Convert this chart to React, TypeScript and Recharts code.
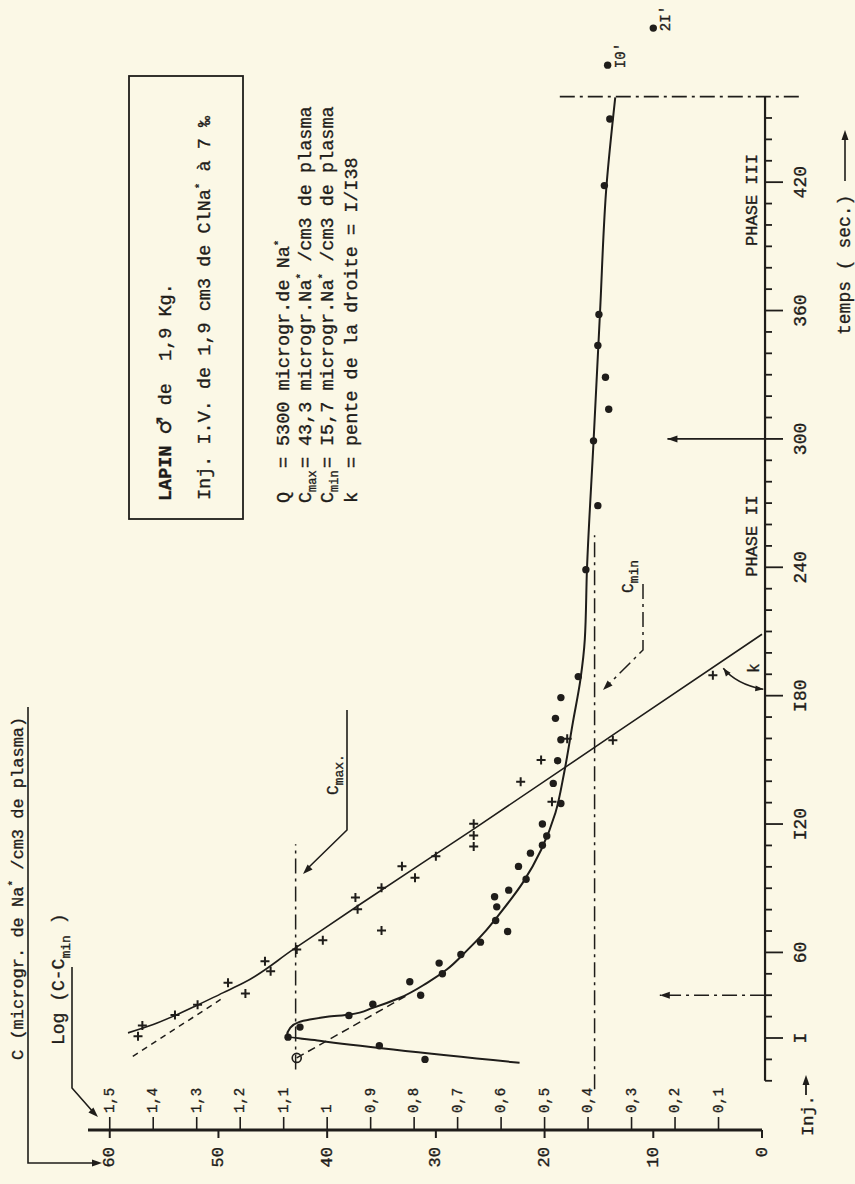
import React from 'react';
import { ComposedChart, XAxis, YAxis, Line, Scatter, ReferenceLine } from 'recharts';

// The plate is drawn "landscape" (time left to right) and the whole sheet is
// then turned a quarter turn counter-clockwise, like the scanned original.
const SHEET_W = 1184;
const SHEET_H = 855;

const INK = '#1f1d1a';
const PAPER = '#fbf8e6';
const MONO = "'Liberation Mono', 'DejaVu Sans Mono', monospace";
const DASH_DOT = '15 5 3 5';
const TEXT_INK = { fill: INK, stroke: INK, strokeWidth: 0.35 };

// --- Data ---

// plasma concentration C (microgr. Na*/cm3), t in seconds
const concentration = [
  { t: 10.0, c: 31.0 }, { t: 16.4, c: 35.2 }, { t: 20.4, c: 43.6 }, { t: 25.1, c: 42.5 },
  { t: 30.5, c: 38.0 }, { t: 35.8, c: 35.8 }, { t: 40.0, c: 31.4 }, { t: 46.3, c: 32.4 },
  { t: 50.0, c: 29.4 }, { t: 55.0, c: 29.7 }, { t: 59.0, c: 27.7 }, { t: 64.8, c: 25.9 },
  { t: 69.8, c: 23.4 }, { t: 74.9, c: 24.5 }, { t: 81.3, c: 24.4 }, { t: 86.0, c: 24.6 },
  { t: 89.1, c: 23.3 }, { t: 94.2, c: 21.7 }, { t: 100.2, c: 22.4 }, { t: 106.4, c: 21.3 },
  { t: 110.1, c: 20.2 }, { t: 114.4, c: 19.8 }, { t: 120.0, c: 20.2 }, { t: 129.6, c: 18.5 },
  { t: 139.0, c: 19.2 }, { t: 149.6, c: 18.8 }, { t: 159.4, c: 18.5 }, { t: 169.4, c: 19.0 },
  { t: 179.1, c: 18.5 }, { t: 188.9, c: 16.9 }, { t: 238.9, c: 16.2 }, { t: 268.8, c: 15.1 },
  { t: 299.1, c: 15.5 }, { t: 313.9, c: 14.1 }, { t: 328.8, c: 14.4 }, { t: 343.7, c: 15.1 },
  { t: 358.2, c: 15.0 }, { t: 418.4, c: 14.5 }, { t: 449.5, c: 14.0 },
];

// the two late samples (10 and 21 min), put just past the end of the scale
const lateSamples = [
  { t: 474.7, c: 14.2, label: "I0'" },
  { t: 492.0, c: 10.0, label: "2I'" },
];

// open circle: value extrapolated back towards the injection
const backExtrapolated = [{ t: 10.7, c: 42.8 }];

// hand-drawn curve through the concentration points
const concentrationCurve = [
  { t: 8.4, c: 22.3 }, { t: 18.7, c: 40.7 }, { t: 20.9, c: 43.7 }, { t: 24.7, c: 43.4 },
  { t: 27.4, c: 42.6 }, { t: 28.6, c: 41.6 }, { t: 29.9, c: 40.0 }, { t: 31.0, c: 37.9 },
  { t: 34.1, c: 35.8 }, { t: 38.8, c: 33.3 }, { t: 45.8, c: 30.8 }, { t: 52.0, c: 29.0 },
  { t: 60.6, c: 27.2 }, { t: 69.0, c: 25.6 }, { t: 77.0, c: 24.3 }, { t: 92.6, c: 22.0 },
  { t: 108.1, c: 20.3 }, { t: 125.3, c: 19.0 }, { t: 144.0, c: 18.2 }, { t: 167.4, c: 17.4 },
  { t: 187.6, c: 16.7 }, { t: 206.3, c: 16.3 }, { t: 239.2, c: 16.1 }, { t: 298.4, c: 15.5 },
  { t: 359.2, c: 14.9 }, { t: 418.6, c: 14.3 }, { t: 459.6, c: 13.5 },
];
const concentrationBack = [{ t: 10.7, c: 42.8 }, { t: 39.5, c: 32.8 }];

// Log (C - Cmin)
const logPoints = [
  { t: 20.8, log: 1.435 }, { t: 25.8, log: 1.425 }, { t: 30.7, log: 1.35 }, { t: 35.5, log: 1.298 },
  { t: 40.8, log: 1.188 }, { t: 45.8, log: 1.228 }, { t: 51.2, log: 1.13 }, { t: 55.9, log: 1.143 },
  { t: 61.4, log: 1.07 }, { t: 65.7, log: 1.01 }, { t: 70.3, log: 0.875 }, { t: 80.2, log: 0.93 },
  { t: 85.7, log: 0.935 }, { t: 90.2, log: 0.875 }, { t: 94.9, log: 0.798 }, { t: 100.3, log: 0.828 },
  { t: 104.9, log: 0.75 }, { t: 109.5, log: 0.663 }, { t: 114.7, log: 0.663 }, { t: 120.1, log: 0.663 },
  { t: 130.4, log: 0.483 }, { t: 139.8, log: 0.555 }, { t: 149.9, log: 0.508 }, { t: 159.2, log: 0.343 },
  { t: 159.9, log: 0.448 }, { t: 189.5, log: 0.113 },
];
const logLine = [
  { t: 22.4, log: 1.458 }, { t: 26.3, log: 1.4 }, { t: 30.5, log: 1.35 }, { t: 35.2, log: 1.3 },
  { t: 41.1, log: 1.24 }, { t: 45.8, log: 1.192 }, { t: 61.4, log: 1.078 }, { t: 82.4, log: 0.925 },
  { t: 117.4, log: 0.665 }, { t: 163.4, log: 0.33 }, { t: 208.7, log: 0 },
];
const logLineBack = [{ t: 11.4, log: 1.447 }, { t: 38.0, log: 1.245 }];

const C_MAX_LEVEL = 42.9;
const C_MIN_LEVEL = 15.4;
const LOG_SCALE = 40; // log 1,5 is printed against C = 60
const END_OF_SCALE = 460;

const cTicks = [0, 10, 20, 30, 40, 50, 60];
const logTicks = [1.5, 1.4, 1.3, 1.2, 1.1, 1.0, 0.9, 0.8, 0.7, 0.6, 0.5, 0.4, 0.3, 0.2, 0.1];
const logTickLabels = ['1,5', '1,4', '1,3', '1,2', '1,1', '1', '0,9', '0,8', '0,7', '0,6', '0,5', '0,4', '0,3', '0,2', '0,1'];
const timeTicks = [
  0, 10, 20, 30, 40, 50, 60, 70, 80, 90, 100, 110, 120, 130, 140, 150, 160, 170, 180, 190, 200,
  210, 220, 230, 240, 250, 260, 270, 280, 290, 300, 310, 320, 330, 340, 350, 360, 370, 380, 390,
  400, 410, 420, 430, 440, 450,
];
const timeTickLabels: Record<number, string> = {
  20: 'I', 60: '60', 120: 'I20', 180: 'I80', 240: '240', 300: '300', 360: '360', 420: '420',
};

const toC = (rows: { t: number; log: number }[]) => rows.map((r) => ({ t: r.t, c: r.log * LOG_SCALE }));
const yTicks = Array.from(
  new Set([...cTicks, ...logTicks.map((l) => Math.round(l * LOG_SCALE * 1000) / 1000)])
).sort((a, b) => a - b);

// --- drawing helpers ---

const head = (x1: number, y1: number, x2: number, y2: number, len = 10, half = 3.5) => {
  const d = Math.hypot(x2 - x1, y2 - y1) || 1;
  const ux = (x2 - x1) / d;
  const uy = (y2 - y1) / d;
  const bx = x2 - ux * len;
  const by = y2 - uy * len;
  return `${x2},${y2} ${bx - uy * half},${by + ux * half} ${bx + uy * half},${by - ux * half}`;
};

const arrowLine = (dash?: string) => (p: any) => (
  <g>
    <line x1={p.x1} y1={p.y1} x2={p.x2} y2={p.y2} stroke={INK} strokeWidth={1.6} strokeDasharray={dash} />
    <polygon points={head(p.x1, p.y1, p.x2, p.y2)} fill={INK} />
  </g>
);

const Dot = (p: any) => <circle cx={p.cx} cy={p.cy} r={3.7} fill={INK} />;
const OpenDot = (p: any) => <circle cx={p.cx} cy={p.cy} r={4.5} fill="none" stroke={INK} strokeWidth={1.6} />;
const Plus = (p: any) => (
  <path d={`M${p.cx - 4.5},${p.cy}H${p.cx + 4.5}M${p.cx},${p.cy - 4.5}V${p.cy + 4.5}`} stroke={INK} strokeWidth={2} />
);
const LateDot = (p: any) => (
  <g>
    <circle cx={p.cx} cy={p.cy} r={3.7} fill={INK} />
    <text x={p.cx - 3} y={p.cy + 17} fontSize={14} fontFamily={MONO} {...TEXT_INK}>
      {p.payload.label}
    </text>
  </g>
);

const ValueTick = (p: any) => {
  const { x, y, payload } = p;
  const v = payload.value;
  const isC = cTicks.includes(v);
  const li = logTicks.findIndex((l) => Math.abs(l * LOG_SCALE - v) < 1e-6);
  return (
    <g fontFamily={MONO}>
      {isC && (
        <>
          <line x1={x} y1={y} x2={x - 8} y2={y} stroke={INK} strokeWidth={2} />
          <text x={x - 17} y={y} textAnchor="end" dominantBaseline="central" fontSize={17} {...TEXT_INK}>
            {v}
          </text>
        </>
      )}
      {li >= 0 && (
        <>
          <line x1={x} y1={y} x2={x + 13} y2={y} stroke={INK} strokeWidth={1.6} />
          <text x={x + 17} y={y} dominantBaseline="central" fontSize={14} {...TEXT_INK}>
            {logTickLabels[li]}
          </text>
        </>
      )}
    </g>
  );
};

const TimeTick = (p: any) => {
  const { x, y, payload } = p;
  const label = timeTickLabels[payload.value];
  const top = y + 3;
  return (
    <g fontFamily={MONO}>
      <line x1={x} y1={top} x2={x} y2={top + (label ? 18 : 7)} stroke={INK} strokeWidth={1.8} />
      {label && (
        <text x={x} y={y + 44} textAnchor="middle" fontSize={18} {...TEXT_INK}>
          {label}
        </text>
      )}
    </g>
  );
};

// free annotations of the plate (titles, legend box, labels), in sheet pixels
const Annotations = () => {
  const sup = (s: string) => (
    <tspan dy={-7} fontSize={11}>
      {s}
    </tspan>
  );
  const sub = (s: string) => (
    <tspan dy={5} fontSize={12}>
      {s}
    </tspan>
  );
  return (
    <svg
      width={SHEET_W}
      height={SHEET_H}
      style={{ position: 'absolute', left: 0, top: 0, pointerEvents: 'none' }}
      fontFamily={MONO}
    >
      <g {...TEXT_INK}>
        {/* C axis title */}
        <text x={124} y={23} fontSize={17}>
          C (microgr. de Na{sup('*')}
          <tspan dy={7}> /cm3 de plasma)</tspan>
        </text>

        {/* Log (C - Cmin) title */}
        <text x={139} y={64} fontSize={18}>
          Log (C-C
          <tspan dy={6} fontSize={13}>
            min
          </tspan>
          <tspan dy={-6}> )</tspan>
        </text>

        {/* legend box text */}
        <text x={683} y={171} fontSize={18.5} xmlSpace="preserve">
          <tspan fontWeight="bold">LAPIN</tspan>{' '}
          <tspan fontFamily="'DejaVu Sans', sans-serif" fontSize={20}>
            ♂
          </tspan>
          <tspan> de  1,9 Kg.</tspan>
        </text>
        <text x={684} y={210} fontSize={18.5}>
          Inj. I.V. de 1,9 cm3 de ClNa{sup('*')}
          <tspan dy={7}> à 7 ‰</tspan>
        </text>

        <text x={681} y={289} fontSize={18.5}>
          Q<tspan x={716}>=</tspan>
          <tspan x={738}>5300 microgr.de Na</tspan>
          {sup('*')}
        </text>
        <text x={681} y={311} fontSize={18.5}>
          C{sub('max')}
          <tspan x={716} dy={-5}>
            =
          </tspan>
          <tspan x={738}>43,3 microgr.Na</tspan>
          {sup('*')}
          <tspan dy={7}> /cm3 de plasma</tspan>
        </text>
        <text x={681} y={333} fontSize={18.5}>
          C{sub('min')}
          <tspan x={716} dy={-5}>
            =
          </tspan>
          <tspan x={738}>I5,7 microgr.Na</tspan>
          {sup('*')}
          <tspan dy={7}> /cm3 de plasma</tspan>
        </text>
        <text x={681} y={357} fontSize={18.5}>
          k<tspan x={716}>=</tspan>
          <tspan x={738}>pente de la droite = I/I38</tspan>
        </text>

        {/* Cmax / Cmin labels */}
        <text x={389} y={338} fontSize={16}>
          C
          <tspan dy={5} fontSize={13}>
            max.
          </tspan>
        </text>
        <text x={591} y={633} fontSize={16}>
          C
          <tspan dy={5} fontSize={13}>
            min
          </tspan>
        </text>
        <text x={511} y={759} fontSize={16}>
          k
        </text>

        {/* phases */}
        <text x={648} y={757} fontSize={17} textAnchor="middle">
          PHASE II
        </text>
        <text x={984} y={757} fontSize={17} textAnchor="middle">
          PHASE III
        </text>

        {/* time axis title, injection */}
        <text x={849} y={850} fontSize={18}>
          temps ( sec.)
        </text>
        <text x={48} y={813} fontSize={17}>
          Inj.
        </text>
      </g>

      {/* bracket arrows */}
      <polyline points="477,28 21,28 21,94" fill="none" stroke={INK} strokeWidth={1.6} />
      <polygon points={head(21, 90, 21, 102)} fill={INK} />
      <polyline points="217,72 96,72 71,94" fill="none" stroke={INK} strokeWidth={1.6} />
      <polygon points={head(75, 90, 67, 98)} fill={INK} />

      <rect x={665} y={129} width={443} height={114} fill="none" stroke={INK} strokeWidth={1.8} />

      <polyline points="474,347 354,347 315,307" fill="none" stroke={INK} strokeWidth={1.6} />
      <polygon points={head(318, 311, 310, 303)} fill={INK} />
      <polyline points="600,643 534,643 499,608" fill="none" stroke={INK} strokeWidth={1.5} strokeDasharray={DASH_DOT} />
      <polygon points={head(502, 611, 494, 603)} fill={INK} />

      {/* slope k */}
      <path d="M515.7,723.3 Q499.4,736.7 494.7,763.3" fill="none" stroke={INK} strokeWidth={1.6} />
      <polygon points={head(506, 731, 515.7, 723.3, 8, 3)} fill={INK} />
      <polygon points={head(496, 752, 494.7, 763.3, 8, 3)} fill={INK} />

      <line x1={1003} y1={845} x2={1046} y2={845} stroke={INK} strokeWidth={1.6} />
      <polygon points={head(1040, 845, 1054, 845)} fill={INK} />
      <line x1={89} y1={806} x2={103} y2={806} stroke={INK} strokeWidth={1.8} />
      <polygon points={head(98, 806, 109, 806)} fill={INK} />
    </svg>
  );
};

export default function App() {
  return (
    <div
      style={{
        position: 'absolute',
        left: 0,
        top: 0,
        width: SHEET_H,
        height: SHEET_W,
        background: PAPER,
        overflow: 'hidden',
      }}
    >
      <div
        style={{
          position: 'absolute',
          left: 0,
          top: 0,
          width: SHEET_W,
          height: SHEET_H,
          transformOrigin: '0 0',
          transform: `translate(0px, ${SHEET_W}px) rotate(-90deg)`,
        }}
      >
        <ComposedChart width={SHEET_W} height={SHEET_H} margin={{ top: 88, right: 11, bottom: 33, left: 0 }}>
          <XAxis
            type="number"
            dataKey="t"
            domain={[-23, 500]}
            ticks={timeTicks}
            interval={0}
            axisLine={false}
            tickLine={false}
            tickSize={0}
            tickMargin={0}
            height={60}
            tick={(p: any) => <TimeTick {...p} />}
          />
          <YAxis
            type="number"
            dataKey="c"
            domain={[0, 62]}
            ticks={yTicks}
            interval={0}
            width={54}
            axisLine={{ stroke: INK, strokeWidth: 3 }}
            tickLine={false}
            tickSize={0}
            tickMargin={0}
            tick={(p: any) => <ValueTick {...p} />}
          />

          {/* time axis line, slightly off the C = 0 mark as drawn */}
          <ReferenceLine
            segment={[{ x: 0, y: -0.28 }, { x: END_OF_SCALE, y: -0.28 }]}
            stroke={INK}
            strokeWidth={2.2}
            ifOverflow="visible"
          />
          <ReferenceLine
            segment={[{ x: END_OF_SCALE, y: 18.6 }, { x: END_OF_SCALE, y: -3.5 }]}
            stroke={INK}
            strokeWidth={1.6}
            strokeDasharray={DASH_DOT}
            ifOverflow="visible"
          />
          <ReferenceLine
            segment={[{ x: 5.3, y: C_MAX_LEVEL }, { x: 110.5, y: C_MAX_LEVEL }]}
            stroke={INK}
            strokeWidth={1.5}
            strokeDasharray={DASH_DOT}
            ifOverflow="visible"
          />
          <ReferenceLine
            segment={[{ x: -4, y: C_MIN_LEVEL }, { x: 255, y: C_MIN_LEVEL }]}
            stroke={INK}
            strokeWidth={1.5}
            strokeDasharray={DASH_DOT}
            ifOverflow="visible"
          />
          <ReferenceLine
            segment={[{ x: 40, y: -0.28 }, { x: 40, y: 9.4 }]}
            ifOverflow="visible"
            shape={arrowLine(DASH_DOT)}
          />
          <ReferenceLine
            segment={[{ x: 300, y: -0.28 }, { x: 300, y: 8.7 }]}
            ifOverflow="visible"
            shape={arrowLine()}
          />

          <Line
            data={concentrationCurve}
            dataKey="c"
            type="monotone"
            stroke={INK}
            strokeWidth={2}
            dot={false}
            activeDot={false}
            isAnimationActive={false}
          />
          <Line
            data={concentrationBack}
            dataKey="c"
            type="linear"
            stroke={INK}
            strokeWidth={1.5}
            strokeDasharray="8 5"
            dot={false}
            activeDot={false}
            isAnimationActive={false}
          />
          <Line
            data={toC(logLine)}
            dataKey="c"
            type="monotone"
            stroke={INK}
            strokeWidth={1.6}
            dot={false}
            activeDot={false}
            isAnimationActive={false}
          />
          <Line
            data={toC(logLineBack)}
            dataKey="c"
            type="linear"
            stroke={INK}
            strokeWidth={1.5}
            strokeDasharray="6 5"
            dot={false}
            activeDot={false}
            isAnimationActive={false}
          />

          <Scatter data={toC(logPoints)} shape={Plus} isAnimationActive={false} />
          <Scatter data={concentration} shape={Dot} isAnimationActive={false} />
          <Scatter data={backExtrapolated} shape={OpenDot} isAnimationActive={false} />
          <Scatter data={lateSamples} shape={LateDot} isAnimationActive={false} />
        </ComposedChart>
        <Annotations />
      </div>
    </div>
  );
}
